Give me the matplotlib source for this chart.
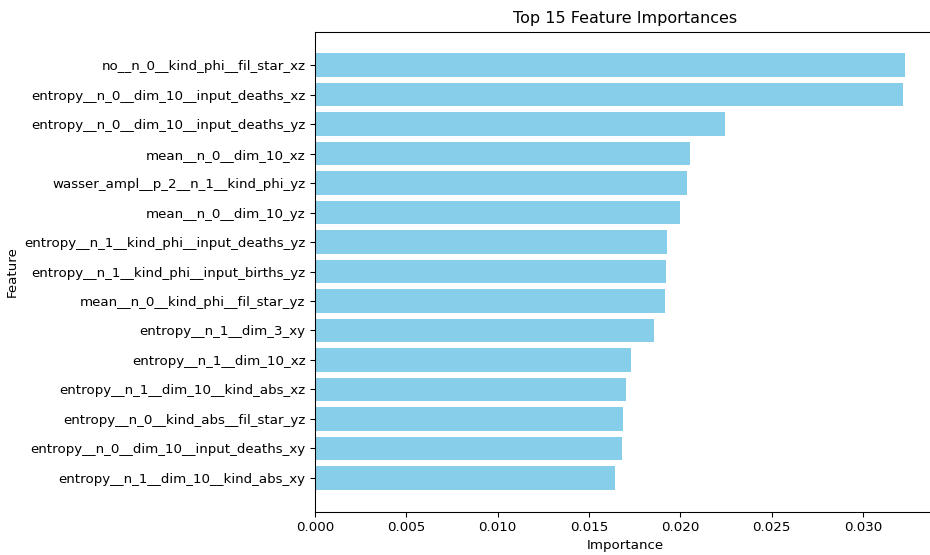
import matplotlib
matplotlib.use("Agg")
import matplotlib.pyplot as plt

features = [
    "no__n_0__kind_phi__fil_star_xz",
    "entropy__n_0__dim_10__input_deaths_xz",
    "entropy__n_0__dim_10__input_deaths_yz",
    "mean__n_0__dim_10_xz",
    "wasser_ampl__p_2__n_1__kind_phi_yz",
    "mean__n_0__dim_10_yz",
    "entropy__n_1__kind_phi__input_deaths_yz",
    "entropy__n_1__kind_phi__input_births_yz",
    "mean__n_0__kind_phi__fil_star_yz",
    "entropy__n_1__dim_3_xy",
    "entropy__n_1__dim_10_xz",
    "entropy__n_1__dim_10__kind_abs_xz",
    "entropy__n_0__kind_abs__fil_star_yz",
    "entropy__n_0__dim_10__input_deaths_xy",
    "entropy__n_1__dim_10__kind_abs_xy",
]
importances = [
    0.03233, 0.03222, 0.02243, 0.02053, 0.02039, 0.01997, 0.01927, 0.01924,
    0.01915, 0.01854, 0.01730, 0.01703, 0.01686, 0.01683, 0.01645,
]

W, H, DPI = 930, 555, 96
fig = plt.figure(figsize=(W / DPI, H / DPI), dpi=DPI)
left, right, top, bottom = 315, 935, 31.5, 511.5
ax = fig.add_axes([left / W, (H - bottom) / H, (right - left) / W, (bottom - top) / H])
ax.barh(features[::-1], importances[::-1], color="skyblue")
ax.set_xlabel("Importance")
ax.set_ylabel("Feature")
ax.set_title("Top 15 Feature Importances")
fig.savefig("out.png", dpi=DPI)
